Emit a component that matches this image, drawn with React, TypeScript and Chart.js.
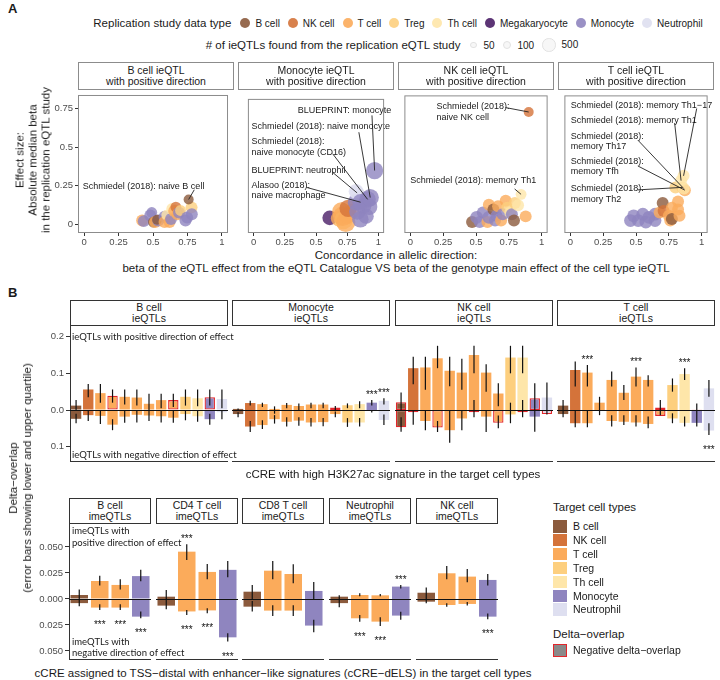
import React, { useEffect, useRef } from "react";
import { Chart, registerables } from "chart.js";
Chart.register(...registerables);

const SANS = '"Liberation Sans", Arial, Helvetica, sans-serif';
const LATO = 'Lato, "Open Sans", sans-serif';
Chart.defaults.font.family = SANS;

// ---------- cell types / colours
const typeKeys = ["B", "NK", "T", "Treg", "Th", "Mega", "Mono", "Neut"];
const typeNames = ["B cell", "NK cell", "T cell", "Treg", "Th cell", "Megakaryocyte", "Monocyte", "Neutrophil"];
const typeColors = ["#8b5a3c", "#d4733a", "#fbab5b", "#fdcf7e", "#fee6a9", "#4a1e66", "#8f85bf", "#dedff0"];
const panelBLegendTypes = [0, 1, 2, 3, 4, 6, 7];
const sizeLegendN = [50, 100, 500];

// ---------- Panel A data
const scatterTitles = [
  "B cell ieQTL\nwith positive direction",
  "Monocyte ieQTL\nwith positive direction",
  "NK cell ieQTL\nwith positive direction",
  "T cell ieQTL\nwith positive direction",
];
const scatterXTicks = [0, 0.25, 0.5, 0.75, 1];
const scatterYTicks = [0, 0.25, 0.5, 0.75];

const bX = [0.421, 0.433, 0.48, 0.491, 0.503, 0.515, 0.538, 0.53, 0.584, 0.584, 0.6, 0.62, 0.631, 0.64, 0.654, 0.666, 0.678, 0.689, 0.7, 0.736, 0.748, 0.78, 0.782, 0.759];
const bY = [0.025, 0.021, 0.057, 0.077, 0.015, 0.015, 0.025, 0.03, 0.05, 0.015, 0.06, 0.015, 0.035, 0.1, 0.087, 0.112, 0.066, 0.076, 0.09, 0.025, 0.045, 0.11, 0.066, 0.161];
const bN = [300, 300, 300, 200, 200, 300, 300, 150, 300, 300, 200, 300, 300, 300, 300, 200, 300, 300, 200, 300, 300, 300, 300, 150];
const bT = ["T", "Mono", "Mono", "Mono", "B", "T", "Mono", "B", "Mono", "T", "Th", "T", "Mono", "Th", "T", "NK", "T", "Mono", "Treg", "Mono", "Mono", "Treg", "Mono", "B"];
const bLabels = ["Schmiedel (2018): naive B cell"];
const bLabelX = [-0.01];
const bLabelY = [0.248];
const bSegX = [0.8];
const bSegY = [0.224];
const bLabelPt = [23];

const mX = [0.61, 0.68, 0.703, 0.72, 0.715, 0.738, 0.75, 0.785, 0.757, 0.82, 0.831, 0.855, 0.878, 0.901, 0.925, 0.82, 0.829, 0.857, 0.913, 0.934, 0.969];
const mY = [0.045, 0.04, 0.087, 0.03, 0.056, 0.015, 0.06, 0.087, 0.108, 0.149, 0.087, 0.035, 0.128, 0.056, 0.118, 0.222, 0.211, 0.149, 0.168, 0.18, 0.36];
const mN = [800, 1000, 3000, 3000, 5000, 4000, 1500, 1000, 2000, 1500, 1500, 1500, 1500, 1000, 1500, 800, 800, 1500, 1500, 2000, 2000];
const mT = ["Mega", "T", "T", "Treg", "T", "T", "T", "T", "NK", "Mono", "Mono", "Mono", "Mono", "Mono", "Mono", "Neut", "Neut", "Mono", "Mono", "Mono", "Mono"];
const mLabels = ["BLUEPRINT: monocyte", "Schmiedel (2018): naive monocyte", "Schmiedel (2018):\nnaive monocyte (CD16)", "BLUEPRINT: neutrophil", "Alasoo (2018):\nnaive macrophage"];
const mLabelX = [0.354, -0.017, -0.017, -0.017, -0.017];
const mLabelY = [0.758, 0.652, 0.553, 0.36, 0.261];
const mSegX = [0.948, 0.843, 0.633, 0.633, 0.423];
const mSegY = [0.727, 0.615, 0.472, 0.348, 0.248];
const mLabelPt = [20, 19, 18, 16, 17];

const nX = [0.47, 0.505, 0.528, 0.552, 0.587, 0.598, 0.598, 0.633, 0.645, 0.656, 0.668, 0.691, 0.703, 0.726, 0.738, 0.761, 0.773, 0.789, 0.796, 0.82, 0.878, 0.843, 0.901];
const nY = [0.015, 0.046, 0.015, 0.077, 0.015, 0.046, 0.128, 0.097, 0.025, 0.056, 0.118, 0.025, 0.066, 0.153, 0.108, 0.077, 0.066, 0.025, 0.139, 0.124, 0.052, 0.195, 0.729];
const nN = [300, 400, 300, 300, 300, 400, 300, 300, 300, 300, 300, 300, 300, 300, 300, 300, 300, 300, 300, 300, 300, 200, 150];
const nT = ["B", "Mono", "Mono", "Mono", "T", "Mono", "T", "B", "Mono", "Mono", "T", "T", "Mono", "T", "Treg", "Th", "Mono", "B", "Treg", "Th", "T", "Th", "NK"];
const nLabels = ["Schmiedel (2018):\nnaive NK cell", "Schmiedel (2018): memory Th1"];
const nLabelX = [0.2, 0.0];
const nLabelY = [0.764, 0.286];
const nSegX = [0.724, 0.794];
const nSegY = [0.758, 0.23];
const nLabelPt = [22, 21];

const tX = [0.458, 0.482, 0.517, 0.552, 0.575, 0.598, 0.645, 0.645, 0.68, 0.703, 0.71, 0.75, 0.761, 0.773, 0.773, 0.82, 0.82, 0.831, 0.8, 0.852, 0.872, 0.864, 0.843, 0.862];
const tY = [0.025, 0.056, 0.025, 0.066, 0.015, 0.046, 0.066, 0.025, 0.077, 0.139, 0.087, 0.056, 0.025, 0.108, 0.035, 0.149, 0.097, 0.056, 0.24, 0.24, 0.222, 0.232, 0.284, 0.315];
const tN = [400, 400, 400, 400, 400, 400, 400, 400, 300, 300, 300, 300, 300, 300, 300, 300, 300, 300, 300, 300, 300, 300, 300, 300];
const tT = ["Mono", "Mono", "Mono", "Mono", "Mono", "Mono", "Mono", "Mono", "T", "B", "NK", "T", "T", "T", "B", "T", "T", "T", "Treg", "Treg", "T", "Th", "Th", "Th"];
const tLabels = ["Schmiedel (2018): memory Th1\u221217", "Schmiedel (2018): memory Th1", "Schmiedel (2018):\nmemory Th17", "Schmiedel (2018):\nmemory Tfh", "Schmiedel (2018):\nmemory Th2"];
const tLabelX = [0.004, 0.004, 0.004, 0.004, 0.004];
const tLabelY = [0.77, 0.671, 0.571, 0.41, 0.23];
const tSegX = [0.962, 0.794, 0.514, 0.514, 0.514];
const tSegY = [0.752, 0.658, 0.547, 0.379, 0.224];
const tLabelPt = [23, 22, 21, 20, 19];

// ---------- Panel B (top): cCRE with high H3K27ac
const h3Titles = ["B cell\nieQTLs", "Monocyte\nieQTLs", "NK cell\nieQTLs", "T cell\nieQTLs"];
const h3Types = ["B", "NK", "T", "T", "T", "T", "T", "T", "T", "Treg", "Th", "Mono", "Neut"];
const h3YTicks = [-0.1, 0, 0.1, 0.2];
const h3Pos = [
  [0.012, 0.056, 0.046, 0.039, 0.036, 0.034, 0.017, 0.027, 0.027, 0.036, 0.032, 0.035, 0.03],
  [0.003, 0.019, 0.016, 0.003, 0.014, 0.011, 0.015, 0.015, 0.007, 0.013, 0.016, 0.02, 0.025],
  [0.021, 0.114, 0.116, 0.141, 0.107, 0.102, 0.15, 0.102, 0.045, 0.143, 0.143, 0.032, 0.034],
  [0.012, 0.109, 0.102, 0.02, 0.082, 0.047, 0.091, 0.082, 0.007, 0.068, 0.098, 0.001, 0.059],
];
const h3Neg = [
  [-0.024, -0.014, -0.016, -0.04, -0.018, -0.013, -0.015, -0.017, -0.021, -0.011, -0.017, -0.025, -0.006],
  [-0.011, -0.045, -0.041, -0.025, -0.032, -0.029, -0.034, -0.033, -0.011, -0.034, -0.034, -0.002, -0.027],
  [-0.047, -0.006, -0.03, -0.048, -0.055, -0.023, -0.006, -0.018, -0.035, -0.012, -0.006, -0.018, -0.011],
  [-0.011, -0.036, -0.036, -0.002, -0.03, -0.032, -0.034, -0.038, -0.016, -0.023, -0.035, -0.035, -0.056],
];
const h3PosLo = [
  [0.0, 0.035, 0.02, 0.02, 0.015, 0.012, 0.0, 0.005, 0.008, 0.012, 0.01, 0.012, 0.005],
  [0.0, 0.012, 0.008, -0.01, 0.005, 0.0, 0.005, 0.005, 0.0, 0.005, 0.005, 0.012, 0.015],
  [0.0, 0.07, 0.055, 0.114, 0.065, 0.055, 0.1, 0.05, 0.01, 0.1, 0.1, 0.0, 0.0],
  [0.0, 0.064, 0.064, 0.0, 0.064, 0.027, 0.064, 0.064, 0.0, 0.05, 0.082, 0.0, 0.036],
];
const h3PosHi = [
  [0.027, 0.071, 0.071, 0.056, 0.056, 0.056, 0.044, 0.044, 0.044, 0.056, 0.056, 0.056, 0.056],
  [0.004, 0.025, 0.02, 0.01, 0.019, 0.018, 0.02, 0.02, 0.011, 0.018, 0.024, 0.027, 0.032],
  [0.048, 0.145, 0.145, 0.175, 0.145, 0.14, 0.175, 0.125, 0.073, 0.175, 0.175, 0.073, 0.075],
  [0.027, 0.132, 0.123, 0.036, 0.105, 0.068, 0.116, 0.095, 0.027, 0.086, 0.114, 0.018, 0.082],
];
const h3NegLo = [
  [-0.036, -0.03, -0.038, -0.055, -0.035, -0.034, -0.03, -0.034, -0.035, -0.028, -0.032, -0.04, -0.025],
  [-0.02, -0.06, -0.052, -0.037, -0.045, -0.043, -0.045, -0.044, -0.02, -0.046, -0.045, -0.007, -0.041],
  [-0.059, -0.04, -0.055, -0.06, -0.089, -0.055, -0.02, -0.06, -0.05, -0.036, -0.02, -0.059, -0.012],
  [-0.02, -0.047, -0.047, -0.014, -0.045, -0.041, -0.045, -0.05, -0.014, -0.036, -0.045, -0.045, -0.068],
];
const h3NegHi = [
  [-0.01, 0.0, 0.0, -0.025, 0.0, 0.0, 0.0, 0.0, 0.0, 0.0, 0.0, -0.01, 0.0],
  [-0.006, -0.03, -0.028, -0.014, -0.02, -0.02, -0.022, -0.022, -0.004, -0.022, -0.022, 0.0, -0.012],
  [-0.02, 0.0, 0.0, -0.03, 0.0, 0.0, 0.027, 0.0, -0.015, 0.02, 0.027, 0.0, 0.0],
  [0.0, 0.0, 0.0, 0.0, -0.014, -0.014, -0.014, -0.018, 0.0, -0.009, -0.018, 0.0, -0.036],
];
const h3RedPos = [[3, 8, 11], [8], [0, 11], [8, 11]];
const h3RedNeg = [[], [], [0, 1, 3, 6, 8, 10, 12], [8]];
const h3SigPos = [[], [11, 12], [], [2, 6, 10]];
const h3SigNeg = [[], [], [], [12]];

// ---------- Panel B (bottom): cCRE-dELS
const delsTitles = ["B cell\nimeQTLs", "CD4 T cell\nimeQTLs", "CD8 T cell\nimeQTLs", "Neutrophil\nimeQTLs", "NK cell\nimeQTLs"];
const delsTypes = ["B", "T", "T", "Mono"];
const delsYTicks = [-0.05, -0.025, 0, 0.025, 0.05];
const delsPos = [
  [0.0038, 0.0173, 0.0135, 0.022],
  [0.0022, 0.0455, 0.026, 0.028],
  [0.007, 0.0272, 0.024, 0.0077],
  [0.0022, 0.0038, 0.0035, 0.0119],
  [0.006, 0.0247, 0.0215, 0.0183],
];
const delsNeg = [
  [-0.004, -0.0083, -0.0083, -0.017],
  [-0.0064, -0.012, -0.011, -0.0369],
  [-0.0074, -0.0112, -0.0112, -0.0256],
  [-0.004, -0.0186, -0.0218, -0.016],
  [-0.0026, -0.0058, -0.0048, -0.017],
];
const delsPosLo = [
  [0.0, 0.013, 0.009, 0.017],
  [0.0, 0.0375, 0.019, 0.021],
  [0.0, 0.019, 0.015, 0.0],
  [0.0, 0.0025, 0.0025, 0.01],
  [0.0, 0.019, 0.016, 0.013],
];
const delsPosHi = [
  [0.009, 0.0224, 0.019, 0.028],
  [0.0087, 0.0526, 0.0337, 0.0365],
  [0.0135, 0.0365, 0.0333, 0.0163],
  [0.0035, 0.0054, 0.0048, 0.0135],
  [0.011, 0.0317, 0.0288, 0.024],
];
const delsNegLo = [
  [-0.007, -0.0106, -0.0106, -0.0186],
  [-0.01, -0.0154, -0.0137, -0.041],
  [-0.012, -0.0163, -0.0163, -0.032],
  [-0.008, -0.0218, -0.026, -0.02],
  [-0.004, -0.0074, -0.0064, -0.0195],
];
const delsNegHi = [
  [0.0, -0.005, -0.005, -0.012],
  [0.0, -0.0106, -0.009, -0.033],
  [-0.002, -0.006, -0.006, -0.02],
  [0.0, -0.0154, -0.0176, -0.0122],
  [0.0, -0.004, -0.003, -0.014],
];
const delsSigPos = [[], [1], [], [3], []];
const delsSigNeg = [[1, 2, 3], [1, 2, 3], [], [1, 2], [3]];

// ---------- helpers
const colorOf = (k: string) => typeColors[typeKeys.indexOf(k)];
const rgba = (hex: string, a: number) => {
  const v = parseInt(hex.slice(1), 16);
  return `rgba(${(v >> 16) & 255},${(v >> 8) & 255},${v & 255},${a})`;
};
const radiusOf = (n: number) => 1.39 * Math.log(n) - 1.94;
const RED = "#e3262b";

type ScFacet = {
  x: number[]; y: number[]; n: number[]; t: string[];
  labels: string[]; lx: number[]; ly: number[]; sx: number[]; sy: number[]; pt: number[];
};
const scFacets: ScFacet[] = [
  { x: bX, y: bY, n: bN, t: bT, labels: bLabels, lx: bLabelX, ly: bLabelY, sx: bSegX, sy: bSegY, pt: bLabelPt },
  { x: mX, y: mY, n: mN, t: mT, labels: mLabels, lx: mLabelX, ly: mLabelY, sx: mSegX, sy: mSegY, pt: mLabelPt },
  { x: nX, y: nY, n: nN, t: nT, labels: nLabels, lx: nLabelX, ly: nLabelY, sx: nSegX, sy: nSegY, pt: nLabelPt },
  { x: tX, y: tY, n: tN, t: tT, labels: tLabels, lx: tLabelX, ly: tLabelY, sx: tSegX, sy: tSegY, pt: tLabelPt },
];

type BarFacet = {
  types: string[]; pos: number[]; neg: number[]; posLo: number[]; posHi: number[];
  negLo: number[]; negHi: number[]; redPos: number[]; redNeg: number[]; sigPos: number[]; sigNeg: number[];
};
const h3Facets: BarFacet[] = h3Pos.map((p, i) => ({
  types: h3Types, pos: p, neg: h3Neg[i], posLo: h3PosLo[i], posHi: h3PosHi[i], negLo: h3NegLo[i], negHi: h3NegHi[i],
  redPos: h3RedPos[i], redNeg: h3RedNeg[i], sigPos: h3SigPos[i], sigNeg: h3SigNeg[i],
}));
const delsFacets: BarFacet[] = delsPos.map((p, i) => ({
  types: delsTypes, pos: p, neg: delsNeg[i], posLo: delsPosLo[i], posHi: delsPosHi[i], negLo: delsNegLo[i], negHi: delsNegHi[i],
  redPos: [], redNeg: [], sigPos: delsSigPos[i], sigNeg: delsSigNeg[i],
}));

// ---------- chart configs
function scatterConfig(f: ScFacet, first: boolean, axisW: number): any {
  const pts = f.x.map((x, i) => ({ x, y: f.y[i], r: radiusOf(f.n[i]) }));
  const cols = f.t.map((t) => rgba(colorOf(t), 0.8));
  const annot = {
    id: "annot",
    afterDatasetsDraw(chart: any) {
      const { ctx, chartArea: a } = chart;
      const xs = chart.scales.x, ys = chart.scales.y;
      ctx.save();
      ctx.strokeStyle = "#222";
      ctx.lineWidth = 0.9;
      ctx.font = `9px ${SANS}`;
      ctx.fillStyle = "#1a1a1a";
      ctx.textBaseline = "middle";
      ctx.textAlign = "left";
      f.labels.forEach((lab, k) => {
        const p = pts[f.pt[k]];
        ctx.beginPath();
        ctx.moveTo(xs.getPixelForValue(f.sx[k]), ys.getPixelForValue(f.sy[k]));
        ctx.lineTo(xs.getPixelForValue(p.x), ys.getPixelForValue(p.y));
        ctx.stroke();
        lab.split("\n").forEach((line, j) =>
          ctx.fillText(line, xs.getPixelForValue(f.lx[k]), ys.getPixelForValue(f.ly[k]) + j * 10.5)
        );
      });
      ctx.strokeStyle = "#8c8c8c";
      ctx.lineWidth = 1;
      ctx.strokeRect(a.left + 0.5, a.top + 0.5, a.width - 1, a.height - 1);
      ctx.restore();
    },
  };
  return {
    type: "bubble",
    data: { datasets: [{ data: pts, backgroundColor: cols, borderWidth: 0 }] },
    options: {
      animation: false, responsive: false, events: [],
      layout: { padding: 0 },
      plugins: { legend: { display: false }, tooltip: { enabled: false } },
      scales: {
        x: {
          type: "linear", min: -0.045, max: 1.045,
          afterBuildTicks: (s: any) => { s.ticks = scatterXTicks.map((v) => ({ value: v })); },
          ticks: { callback: (v: any) => String(v), color: "#4d4d4d", font: { size: 9.5 }, padding: 1, maxRotation: 0, autoSkip: false },
          grid: { display: true, drawOnChartArea: false, tickLength: 3, color: "#333" },
          border: { display: false },
          afterFit: (s: any) => { s.height = 16; s.paddingLeft = 0; s.paddingRight = 0; },
        },
        y: {
          type: "linear", display: first, min: -0.0558, max: 0.8368,
          afterBuildTicks: (s: any) => { s.ticks = scatterYTicks.map((v) => ({ value: v })); },
          ticks: { callback: (v: any) => String(v), color: "#4d4d4d", font: { size: 9.5 }, padding: 2, autoSkip: false },
          grid: { display: true, drawOnChartArea: false, tickLength: 3, color: "#333" },
          border: { display: false },
          afterFit: (s: any) => { s.width = first ? axisW : 0; s.paddingTop = 0; s.paddingBottom = 0; },
        },
      },
    },
    plugins: [annot],
  };
}

function barConfig(f: BarFacet, first: boolean, axisW: number, yMin: number, yMax: number, ticks: number[], digits: number): any {
  const bg = f.types.map((t) => colorOf(t));
  const errPlugin = {
    id: "err",
    afterDatasetsDraw(chart: any) {
      const { ctx, chartArea: a } = chart;
      const xs = chart.scales.x, ys = chart.scales.y;
      ctx.save();
      const y0 = Math.round(ys.getPixelForValue(0)) + 0.5;
      ctx.strokeStyle = "#111";
      ctx.lineWidth = 1;
      ctx.beginPath();
      ctx.moveTo(a.left, y0);
      ctx.lineTo(a.right, y0);
      ctx.stroke();
      ctx.lineWidth = 1.2;
      ctx.strokeStyle = "#111";
      const seg = (cx: number, lo: number, hi: number) => {
        ctx.beginPath();
        ctx.moveTo(cx, ys.getPixelForValue(lo));
        ctx.lineTo(cx, ys.getPixelForValue(hi));
        ctx.stroke();
      };
      f.pos.forEach((_, i) => {
        const cx = xs.getPixelForValue(i);
        seg(cx, f.posLo[i], f.posHi[i]);
        seg(cx, f.negLo[i], f.negHi[i]);
      });
      ctx.font = `10px ${SANS}`;
      ctx.textAlign = "center";
      ctx.textBaseline = "alphabetic";
      ctx.fillStyle = "#111";
      f.sigPos.forEach((i) => ctx.fillText("***", xs.getPixelForValue(i), ys.getPixelForValue(f.posHi[i]) - 2));
      f.sigNeg.forEach((i) => ctx.fillText("***", xs.getPixelForValue(i), ys.getPixelForValue(f.negLo[i]) + 18));
      ctx.lineWidth = 1;
      ctx.strokeStyle = "#333";
      ctx.beginPath();
      ctx.moveTo(a.left, a.bottom - 0.5);
      ctx.lineTo(a.right, a.bottom - 0.5);
      ctx.stroke();
      ctx.restore();
    },
  };
  const mk = (vals: number[], red: number[]) => ({
    data: vals,
    backgroundColor: bg,
    borderColor: vals.map((_, i) => (red.includes(i) ? RED : "rgba(0,0,0,0)")),
    borderWidth: vals.map((_, i) => (red.includes(i) ? 1.3 : 0)),
    borderSkipped: false,
    categoryPercentage: 0.9,
    barPercentage: 0.95,
  });
  return {
    type: "bar",
    data: {
      labels: f.types.map((t, i) => `${t}-${i + 1}`),
      datasets: [mk(f.pos, f.redPos), mk(f.neg, f.redNeg)],
    },
    options: {
      animation: false, responsive: false, events: [],
      layout: { padding: 0 },
      plugins: { legend: { display: false }, tooltip: { enabled: false } },
      scales: {
        x: { display: false, stacked: true },
        y: {
          display: first, stacked: true, min: yMin, max: yMax,
          afterBuildTicks: (s: any) => { s.ticks = ticks.map((v) => ({ value: v })); },
          ticks: { callback: (v: any) => Math.abs(v).toFixed(digits), color: "#4d4d4d", font: { size: 9.5 }, padding: 2, autoSkip: false },
          grid: { display: true, drawOnChartArea: false, tickLength: 4, color: "#333" },
          border: { display: true, color: "#333", width: 1 },
          afterFit: (s: any) => { s.width = first ? axisW : 0; s.paddingTop = 0; s.paddingBottom = 0; },
        },
      },
    },
    plugins: [errPlugin],
  };
}

// ---------- components
function ChartBox({ left, top, width, height, make }: { left: number; top: number; width: number; height: number; make: () => any }) {
  const ref = useRef<HTMLCanvasElement>(null);
  useEffect(() => {
    const c = new Chart(ref.current as HTMLCanvasElement, make());
    return () => c.destroy();
  }, []);
  return <canvas ref={ref} width={width} height={height} style={{ position: "absolute", left, top, width, height }} />;
}

function T({ x, y, size = 11, anchor = "start", weight = 400, family = SANS, color = "#1a1a1a", children }: any) {
  const tx = anchor === "start" ? "0" : anchor === "middle" ? "-50%" : "-100%";
  return (
    <div style={{ position: "absolute", left: x, top: y, transform: `translate(${tx},-50%)`, fontSize: size, fontWeight: weight, fontFamily: family, color, whiteSpace: "nowrap", lineHeight: 1.15 }}>
      {children}
    </div>
  );
}

function VText({ x, y, lines, size, lh }: { x: number; y: number; lines: string[]; size: number; lh: number }) {
  return (
    <div style={{ position: "absolute", left: x, top: y, transform: "translate(-50%,-50%) rotate(-90deg)", fontFamily: SANS, fontSize: size, lineHeight: `${lh}px`, color: "#1a1a1a", whiteSpace: "nowrap", textAlign: "center" }}>
      {lines.map((l, i) => <div key={i}>{l}</div>)}
    </div>
  );
}

function Strip({ left, top, width, height, text, border, size }: any) {
  return (
    <div style={{ position: "absolute", left, top, width, height, boxSizing: "border-box", border: `1px solid ${border}`, background: "#fff", display: "flex", flexDirection: "column", alignItems: "center", justifyContent: "center", fontFamily: SANS, fontSize: size, lineHeight: `${size + 0.5}px`, color: "#1a1a1a", textAlign: "center" }}>
      {String(text).split("\n").map((l: string, i: number) => <div key={i}>{l}</div>)}
    </div>
  );
}

// ---------- layout
const A_LEFTS = [78, 238, 398, 558];
const A_W = 156;
const A_STRIP_TOP = 62;
const A_TOP = 89;
const A_H = 144;

const B1_LEFTS = [70, 232, 395, 557];
const B1_W = 158;
const B1_STRIP_TOP = 300;
const B1_TOP = 326;
const B1_H = 136;

const B2_LEFTS = [69, 156, 242, 329, 416];
const B2_W = 82;
const B2_STRIP_TOP = 498;
const B2_TOP = 524;
const B2_H = 136;

export default function App() {
  return (
    <div style={{ position: "absolute", left: 0, top: 0, width: 720, height: 680, background: "#fff", overflow: "hidden", fontFamily: SANS }}>
      {/* Panel A charts */}
      {scFacets.map((f, i) => (
        <ChartBox key={"a" + i} left={i === 0 ? 0 : A_LEFTS[i]} top={A_TOP} width={i === 0 ? A_LEFTS[0] + A_W : A_W} height={A_H + 16}
          make={() => scatterConfig(f, i === 0, A_LEFTS[0])} />
      ))}
      {scatterTitles.map((t, i) => (
        <Strip key={"as" + i} left={A_LEFTS[i]} top={A_STRIP_TOP} width={A_W} height={A_TOP - A_STRIP_TOP + 1} text={t} border="#8c8c8c" size={10.5} />
      ))}

      {/* Panel B top charts */}
      {h3Facets.map((f, i) => (
        <ChartBox key={"b" + i} left={i === 0 ? 0 : B1_LEFTS[i]} top={B1_TOP} width={i === 0 ? B1_LEFTS[0] + B1_W : B1_W} height={B1_H}
          make={() => barConfig(f, i === 0, B1_LEFTS[0], -0.1417, 0.229, h3YTicks, 1)} />
      ))}
      {h3Titles.map((t, i) => (
        <Strip key={"bs" + i} left={B1_LEFTS[i]} top={B1_STRIP_TOP} width={B1_W} height={B1_TOP - B1_STRIP_TOP} text={t} border="#333" size={10.5} />
      ))}

      {/* Panel B bottom charts */}
      {delsFacets.map((f, i) => (
        <ChartBox key={"c" + i} left={i === 0 ? 0 : B2_LEFTS[i]} top={B2_TOP} width={i === 0 ? B2_LEFTS[0] + B2_W : B2_W} height={B2_H}
          make={() => barConfig(f, i === 0, B2_LEFTS[0], -0.0587, 0.0721, delsYTicks, 3)} />
      ))}
      {delsTitles.map((t, i) => (
        <Strip key={"cs" + i} left={B2_LEFTS[i]} top={B2_STRIP_TOP} width={B2_W} height={B2_TOP - B2_STRIP_TOP} text={t} border="#333" size={10.5} />
      ))}

      {/* Panel labels */}
      <T x={8} y={9} size={13} weight={700}>A</T>
      <T x={8} y={293} size={13} weight={700}>B</T>

      {/* Panel A legends */}
      <div style={{ position: "absolute", left: 0, top: 15, width: 796, height: 16, display: "flex", justifyContent: "center", alignItems: "center", whiteSpace: "nowrap", color: "#1a1a1a" }}>
        <span style={{ fontSize: 11.5, marginRight: 9 }}>Replication study data type</span>
        {typeNames.map((n, i) => (
          <span key={n} style={{ display: "flex", alignItems: "center", marginRight: i === typeNames.length - 1 ? 0 : 8 }}>
            <span style={{ display: "inline-block", width: 10, height: 10, borderRadius: 5, background: rgba(typeColors[i], 0.9), marginRight: 5 }} />
            <span style={{ fontSize: 10 }}>{n}</span>
          </span>
        ))}
      </div>
      <div style={{ position: "absolute", left: 0, top: 37, width: 792, height: 16, display: "flex", justifyContent: "center", alignItems: "center", whiteSpace: "nowrap", color: "#1a1a1a" }}>
        <span style={{ fontSize: 11.5, marginRight: 10 }}># of ieQTLs found from the replication eQTL study</span>
        {sizeLegendN.map((n) => {
          const d = 2 * radiusOf(n);
          return (
            <span key={n} style={{ display: "flex", alignItems: "center", marginRight: 8 }}>
              <span style={{ display: "inline-block", width: d, height: d, boxSizing: "border-box", borderRadius: d / 2, border: "1px solid #e2e2e2", background: "rgba(0,0,0,0.03)", marginRight: 6 }} />
              <span style={{ fontSize: 10 }}>{n}</span>
            </span>
          );
        })}
      </div>

      {/* Panel A axis titles */}
      <VText x={33} y={160} lines={["Effect size:", "Absolute median beta", "in the replication eQTL study"]} size={11.5} lh={13} />
      <T x={396} y={256} size={11.5} anchor="middle">Concordance in allelic direction:</T>
      <T x={396} y={269} size={11.5} anchor="middle">beta of the eQTL effect from the eQTL Catalogue VS beta of the genotype main effect of the cell type ieQTL</T>

      {/* Panel B annotations */}
      <VText x={20} y={478} lines={["Delta\u2212overlap", "(error bars showing lower and upper quartile)"]} size={11.5} lh={14} />
      <T x={72} y={337} size={9.5} family={LATO}>ieQTLs with positive direction of effect</T>
      <T x={72} y={455} size={9.5} family={LATO}>ieQTLs with negative direction of effect</T>
      <T x={393} y={475} size={11.5} anchor="middle">cCRE with high H3K27ac signature in the target cell types</T>
      <T x={72} y={531} size={9.5} family={LATO}>imeQTLs with</T>
      <T x={72} y={543} size={9.5} family={LATO}>positive direction of effect</T>
      <T x={72} y={642} size={9.5} family={LATO}>imeQTLs with</T>
      <T x={72} y={653} size={9.5} family={LATO}>negative direction of effect</T>
      <T x={283} y={674} size={11.5} anchor="middle">cCRE assigned to TSS{"\u2212"}distal with enhancer{"\u2212"}like signatures (cCRE{"\u2212"}dELS) in the target cell types</T>

      {/* Panel B legend */}
      <T x={553} y={508} size={11.5}>Target cell types</T>
      {panelBLegendTypes.map((ti, k) => (
        <React.Fragment key={ti}>
          <div style={{ position: "absolute", left: 553, top: 520 + k * 13.9, width: 14, height: 12.5, background: typeColors[ti] }} />
          <T x={573} y={526 + k * 13.9} size={10.5}>{typeNames[ti]}</T>
        </React.Fragment>
      ))}
      <T x={553} y={635} size={11.5}>Delta{"\u2212"}overlap</T>
      <div style={{ position: "absolute", left: 553, top: 644, width: 14, height: 13, boxSizing: "border-box", border: `1.3px solid ${RED}`, background: "#8a8a8a" }} />
      <T x={573} y={650} size={10.5}>Negative delta{"\u2212"}overlap</T>
    </div>
  );
}
